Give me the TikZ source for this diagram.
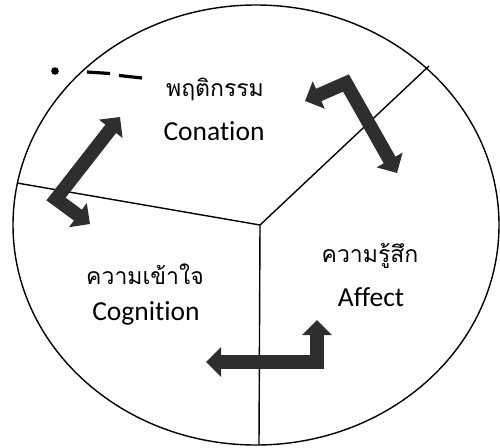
\documentclass[tikz,border=0pt]{standalone}
\usepackage{fontspec}
\newfontfamily\thaifont[Script=Thai]{Loma}
\newfontfamily\latfont[Ligatures=NoCommon]{Carlito}
\usetikzlibrary{arrows.meta}
\begin{document}
\begin{tikzpicture}[x=1pt,y=-1pt,
  rim/.style={line width=1.4pt,black},
  blockarrow/.style={line width=13.5pt,black!82,line join=miter,
     {Triangle[width=29pt,length=15pt]}-{Triangle[width=29pt,length=15pt]}},
  thlabel/.style={font=\thaifont\fontsize{23}{26}\selectfont,inner sep=0pt},
  enlabel/.style={font=\latfont\fontsize{27.5}{30}\selectfont,inner sep=0pt}]
\useasboundingbox (0,0) rectangle (500,447);
% outer ellipse
\draw[rim] (256,225) ellipse [x radius=243pt, y radius=220pt];
% sector lines
\coordinate (O) at (260,225);
\coordinate (L) at (17,183);
\coordinate (R) at (429,66);
\coordinate (B) at (259,445);
\draw[rim] (L) -- (O) -- (R);
\draw[rim] (O) -- (B);
% stray marks
\fill (55,71) circle [radius=3.8pt];
\draw[line width=3.2pt] (87,72) -- (110,73.5);
\draw[line width=3.2pt] (119,75.5) -- (142,78);
% labels
\node[thlabel] (conth) at (215,89) {พฤติกรรม};
\node[enlabel] (conen) at (214,131) {Conation};
\node[thlabel] (cogth) at (145,274) {ความเข้าใจ};
\node[enlabel] (cogen) at (146,313) {Cognition};
\node[thlabel] (affth) at (370,256) {ความรู้สึก};
\node[enlabel] (affen) at (371,297) {Affect};
% block arrows
\coordinate (a1) at (120,117);
\coordinate (a2) at (56,199);
\coordinate (a3) at (90,224);
\draw[blockarrow] (a1) -- (a2) -- (a3);
\coordinate (b1) at (305,101);
\coordinate (b2) at (346,83);
\coordinate (b3) at (397,173);
\draw[blockarrow] (b1) -- (b2) -- (b3);
\coordinate (c1) at (206,362);
\coordinate (c2) at (317,362);
\coordinate (c3) at (317,320);
\draw[blockarrow] (c1) -- (c2) -- (c3);
\end{tikzpicture}
\end{document}
